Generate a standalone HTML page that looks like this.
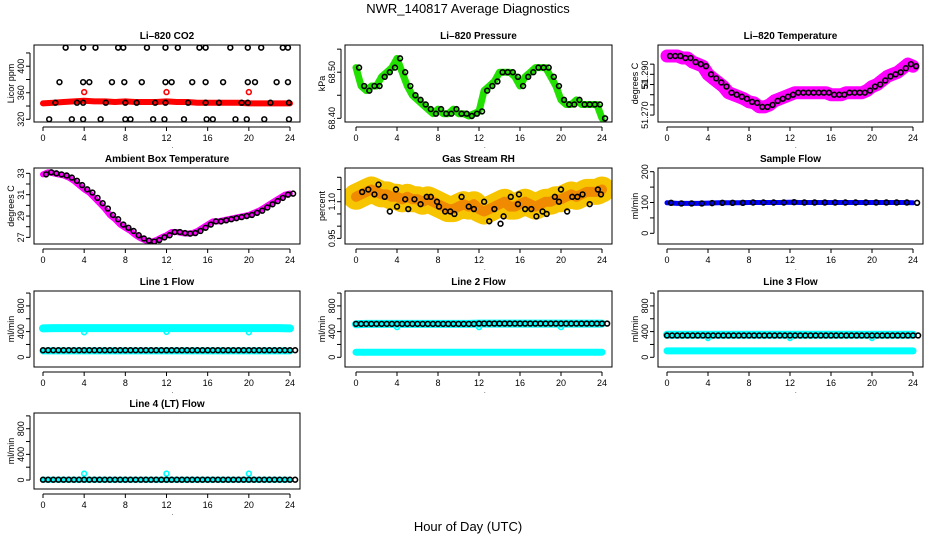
<!DOCTYPE html>
<html><head><meta charset="utf-8"><style>
html,body{margin:0;padding:0;background:#fff;}
svg{display:block;font-family:"Liberation Sans",sans-serif;}
</style></head><body>
<svg id="chart" width="936" height="540" viewBox="0 0 936 540" xmlns="http://www.w3.org/2000/svg">
<text x="468" y="13" text-anchor="middle" font-size="13">NWR_140817  Average Diagnostics</text>
<text x="468" y="531" text-anchor="middle" font-size="13">Hour of Day (UTC)</text>
</svg>
<script>
// ---- data arrays ----
const halfHours = [0,0.5,1,1.5,2,2.5,3,3.5,4,4.5,5,5.5,6,6.5,7,7.5,8,8.5,9,9.5,10,10.5,11,11.5,12,12.5,13,13.5,14,14.5,15,15.5,16,16.5,17,17.5,18,18.5,19,19.5,20,20.5,21,21.5,22,22.5,23,23.5,24];
const hours = [0,1,2,3,4,5,6,7,8,9,10,11,12,13,14,15,16,17,18,19,20,21,22,23,24];
const co2Band = [344,345,346,347,348,347,347,346,347,346,346,346,347,346,346,345,345,345,345,345,344,344,344,344,344];
const co2SpikeHours = [4,12,20];
const co2SpikeVals = [361,361,361];
const co2BlackHours = [0.6,2.8,3.9,5.6,8,8.5,10.7,11.8,13.7,15.9,16.5,18.7,19.8,21.5,23.9, 2.2,3.9,5.1,7.3,7.8,10.1,11.9,13.1,15.2,15.8,18.2,19.9,21.2,23.3,23.8, 1.6,3.9,4.5,6.7,7.9,9.6,11.9,12.5,14.5,15.8,17.5,19.9,20.6,22.7,23.8, 1.2,3.3,3.9,6.1,8,9.1,10.9,11.9,14.1,15.8,17.1,19.3,19.9,22.1,23.9];
const co2BlackVals = [320,320,320,320,320,320,320,320,320,320,320,320,320,320,320, 428,428,428,428,428,428,428,428,428,428,428,428,428,428,428, 376,376,376,376,376,376,376,376,376,376,376,376,376,376,376, 345,345,345,345,345,345,345,345,345,345,345,345,345,345,345];
const pressVals = [68.51,68.47,68.46,68.47,68.47,68.49,68.50,68.51,68.53,68.50,68.47,68.45,68.44,68.43,68.42,68.41,68.42,68.41,68.41,68.42,68.41,68.41,68.405,68.41,68.415,68.46,68.47,68.48,68.50,68.50,68.50,68.49,68.47,68.49,68.50,68.51,68.51,68.51,68.49,68.47,68.44,68.43,68.43,68.44,68.43,68.43,68.43,68.43,68.40];
const litempVals = [51.299,51.299,51.299,51.298,51.298,51.296,51.295,51.294,51.290,51.288,51.286,51.284,51.281,51.280,51.279,51.278,51.2765,51.276,51.274,51.274,51.275,51.277,51.278,51.279,51.280,51.281,51.281,51.281,51.281,51.281,51.281,51.281,51.280,51.280,51.280,51.281,51.281,51.281,51.281,51.282,51.284,51.285,51.287,51.289,51.290,51.291,51.293,51.295,51.294];
const ambientVals = [32.9,33.1,33.0,32.9,32.8,32.6,32.3,31.9,31.5,31.2,30.7,30.2,29.7,29.1,28.7,28.2,27.9,27.6,27.2,26.9,26.7,26.6,26.75,27.0,27.2,27.5,27.5,27.4,27.35,27.4,27.6,27.9,28.2,28.5,28.5,28.6,28.7,28.8,28.9,29.0,29.1,29.3,29.5,29.8,30.1,30.4,30.7,31.0,31.1];
const rhBand = [1.12,1.13,1.14,1.15,1.14,1.13,1.13,1.12,1.12,1.11,1.12,1.11,1.11,1.10,1.11,1.10,1.09,1.08,1.07,1.07,1.08,1.09,1.08,1.09,1.07,1.06,1.07,1.08,1.09,1.10,1.08,1.08,1.09,1.10,1.09,1.08,1.09,1.10,1.10,1.11,1.11,1.12,1.13,1.12,1.13,1.14,1.14,1.14,1.15];
const rhBlackHours = [0.6,1.2,1.8,2.2,2.8,3.3,3.9,4,4.8,5.1,5.7,6.3,6.9,7.3,7.9,8.1,8.7,9.2,9.6,10.3,11,11.5,12.5,13,13.5,14.1,14.4,15.1,15.8,15.9,16.5,17.1,17.6,18.2,18.6,19.4,19.8,20,20.6,21.1,21.6,22.1,22.8,23.6,23.9];
const rhBlackVals = [1.14,1.15,1.13,1.17,1.12,1.06,1.15,1.08,1.11,1.07,1.11,1.09,1.12,1.12,1.10,1.08,1.06,1.06,1.05,1.12,1.08,1.07,1.10,1.02,1.07,1.01,1.04,1.12,1.09,1.13,1.07,1.07,1.04,1.06,1.05,1.12,1.10,1.15,1.06,1.12,1.12,1.13,1.09,1.15,1.13];
const sampleVals = [99,97,97,97,98,99,99,99,100,100,100,100,101,100,100,100,100,100,100,100,100,100,100,100,99];
const line1High = [450,455,455,455,455,455,455,455,455,455,455,455,455,455,455,455,455,455,455,455,455,455,455,455,450];
const line1Low = [100,100,100,100,100,100,100,100,100,100,100,100,100,100,100,100,100,100,100,100,100,100,100,100,100];
const line1Black = [110,110,110,110,110,110,110,110,110,110,110,110,110,110,110,110,110,110,110,110,110,110,110,110,110];
const line2High = [515,520,520,520,520,520,520,520,520,520,520,520,525,525,525,525,525,525,525,525,525,525,525,525,525];
const line2Low = [80,80,80,80,80,80,80,80,80,80,80,80,80,80,80,80,80,80,80,80,80,80,80,80,80];
const line2Black = [520,520,520,520,520,520,520,520,520,520,520,520,525,525,525,525,525,525,525,525,525,525,525,525,525];
const line3High = [350,350,350,350,350,350,350,350,350,350,350,350,350,350,350,350,350,350,350,350,350,350,350,350,350];
const line3Low = [100,100,100,100,100,100,100,100,100,100,100,100,100,100,100,100,100,100,100,100,100,100,100,100,100];
const line3Black = [340,340,340,340,340,340,340,340,340,340,340,340,340,340,340,340,340,340,340,340,340,340,340,340,340];
const line4Cyan = [5,5,5,5,5,5,5,5,5,5,5,5,5,5,5,5,5,5,5,5,5,5,5,5,5];
const line4Black = [5,5,5,5,5,5,5,5,5,5,5,5,5,5,5,5,5,5,5,5,5,5,5,5,5];
const dipHours = [4,12,20];
const line1Dips = [390,395,390];
const line2Dips = [470,470,470];
const line3Dips = [300,300,300];
const line4Dips = [100,100,100];
const xTicks = [0,4,8,12,16,20,24];

// ---- layout ----
const NS = "http://www.w3.org/2000/svg";
const svg = document.getElementById('chart');
const cols = [{l:34,r:300,x0:43,x24:290},{l:345,r:612,x0:356,x24:602},{l:658,r:923,x0:667,x24:913}];
const rows = [{t:45,b:122},{t:168,b:244},{t:291,b:367},{t:413,b:489}];
function el(tag, attrs, parent){const e=document.createElementNS(NS,tag);for(const k in attrs)e.setAttribute(k,attrs[k]);(parent||svg).appendChild(e);return e;}

function makePanel(name, title, ylab, c, r, ylo, yhi, ticks, labels){
  const C=cols[c], R=rows[r];
  const g=el('g',{});
  
  
  const xs=h=>C.x0+(C.x24-C.x0)*h/24;
  const ys=v=>R.b-(v-ylo)/(yhi-ylo)*(R.b-R.t);
  const p={g,xs,ys,C,R};
  const t=el('text',{x:(C.l+C.r)/2,y:R.t-6,'text-anchor':'middle','font-size':10,'font-weight':'bold'},g);
  t.textContent=title;
  
  
  const yl=el('text',{x:0,y:0,'text-anchor':'middle','font-size':9,transform:`translate(${C.l-20},${(R.t+R.b)/2}) rotate(-90)`},g);
  yl.textContent=ylab;
  
  
  const xa=el('g',{},g);
  
  
  el('line',{x1:xs(0),x2:xs(24),y1:R.b+5,y2:R.b+5,stroke:'#000'},xa);
  xTicks.forEach(h=>{
    el('line',{x1:xs(h),x2:xs(h),y1:R.b+5,y2:R.b+9,stroke:'#000'},xa);
    const tl=el('text',{x:xs(h),y:R.b+19,'text-anchor':'middle','font-size':9},xa);
    tl.textContent=h;
  });
  el('text',{x:xs(12)+5,y:R.b+26,'font-size':6},xa).textContent='.';
  const ya=el('g',{},g);
  
  
  el('line',{x1:C.l-4,x2:C.l-4,y1:ys(ticks[0]),y2:ys(ticks[ticks.length-1]),stroke:'#000'},ya);
  ticks.forEach((v,i)=>{
    el('line',{x1:C.l-8,x2:C.l-4,y1:ys(v),y2:ys(v),stroke:'#000'},ya);
    if(labels[i]){
      const tl=el('text',{x:0,y:0,'text-anchor':'middle','font-size':9,transform:`translate(${C.l-10},${ys(v)}) rotate(-90)`},ya);
      tl.textContent=labels[i];
    }
  });
  const cp='clip'+name;
  const cl=el('clipPath',{id:cp},g); el('rect',{x:C.l,y:R.t,width:C.r-C.l,height:R.b-R.t},cl);
  p.plot=el('g',{'clip-path':`url(#${cp})`},g);
  const box=el('rect',{x:C.l,y:R.t,width:C.r-C.l,height:R.b-R.t,fill:'none',stroke:'#000'},g);
  
  
  return p;
}
function band(p, xsArr, vals, color, w, name){
  const pts=xsArr.map((h,i)=>p.xs(h).toFixed(1)+','+p.ys(vals[i]).toFixed(1)).join(' ');
  const l=el('polyline',{points:pts,fill:'none',stroke:color,'stroke-width':w,'stroke-linejoin':'round','stroke-linecap':'round'},p.plot);
  
  
  return l;
}
function circles(p, xsArr, vals, color, name, off){
  const g=el('g',{},p.plot);
  
  
  xsArr.forEach((h,i)=>{
    el('circle',{cx:p.xs(h+(off||0)),cy:p.ys(vals[i]),r:2.4,fill:'none',stroke:color,'stroke-width':1.6},g);
  });
}

// CO2
let p=makePanel('co2','Li\u2013820 CO2','Licor ppm',0,0,315.9,432,[320,340,360,380,400,420],['320','','360','','400','']);
band(p,hours,co2Band,'#ff0000',6,'co2-raw-band');
circles(p,co2SpikeHours,co2SpikeVals,'#ff0000','co2-raw-outliers');
circles(p,co2BlackHours,co2BlackVals,'#000','co2-averages');
// Pressure
p=makePanel('pressure','Li\u2013820 Pressure','kPa',1,0,68.392,68.559,[68.40,68.45,68.50,68.55],['68.40','','68.50','']);
band(p,halfHours,pressVals,'#22e000',7,'pressure-raw-band');
circles(p,halfHours,pressVals,'#000','pressure-averages',0.3);
// Li-820 temp
p=makePanel('li820-temp','Li\u2013820 Temperature','degrees C',2,0,51.2666,51.3044,[51.270,51.275,51.280,51.285,51.290,51.295],['51.270','','','51','51.290','']);
band(p,halfHours,litempVals,'#ff00ff',13,'li820-temp-raw-band');
circles(p,halfHours,litempVals,'#000','li820-temp-averages',0.3);
// Ambient
p=makePanel('ambient-temp','Ambient Box Temperature','degrees C',0,1,26.38,33.5,[27,28,29,30,31,32,33],['27','','29','','31','','33']);
band(p,halfHours,ambientVals,'#ff00ff',6,'ambient-temp-raw-band');
circles(p,halfHours,ambientVals,'#000','ambient-temp-averages',0.3);
// RH
p=makePanel('gas-rh','Gas Stream RH','percent',1,1,0.927,1.238,[0.95,1.00,1.05,1.10,1.15,1.20],['0.95','','','1.10','','']);
band(p,halfHours,rhBand,'#f7c400',26,'gas-rh-raw-band');
band(p,halfHours,rhBand,'#f08a00',10,'gas-rh-raw-core');
circles(p,rhBlackHours,rhBlackVals,'#000','gas-rh-averages');
// Sample flow
p=makePanel('sample-flow','Sample Flow','ml/min',2,1,-34.7,212,[0,50,100,150,200],['0','','100','','200']);
band(p,hours,sampleVals,'#0000ff',5,'sample-flow-raw-band');
circles(p,hours,sampleVals,'#000','sample-flow-averages',0.4);
// Line flows
const fticks=[0,200,400,600,800,1000], flabels=['0','','400','','800',''];
p=makePanel('line1-flow','Line 1 Flow','ml/min',0,2,-151,1032,fticks,flabels);
band(p,hours,line1High,'#00ffff',8,'line1-flow-high-band');
band(p,hours,line1Low,'#00ffff',7,'line1-flow-low-band');
circles(p,dipHours,line1Dips,'#00ffff','line1-flow-dips');
circles(p,hours,line1Black,'#000','line1-flow-averages',0.5);
circles(p,hours,line1Black,'#000','line1-flow-averages-b',0);
p=makePanel('line2-flow','Line 2 Flow','ml/min',1,2,-151,1032,fticks,flabels);
band(p,hours,line2High,'#00ffff',8,'line2-flow-high-band');
band(p,hours,line2Low,'#00ffff',7,'line2-flow-low-band');
circles(p,dipHours,line2Dips,'#00ffff','line2-flow-dips');
circles(p,hours,line2Black,'#000','line2-flow-averages',0.5);
circles(p,hours,line2Black,'#000','line2-flow-averages-b',0);
p=makePanel('line3-flow','Line 3 Flow','ml/min',2,2,-151,1032,fticks,flabels);
band(p,hours,line3High,'#00ffff',8,'line3-flow-high-band');
band(p,hours,line3Low,'#00ffff',7,'line3-flow-low-band');
circles(p,dipHours,line3Dips,'#00ffff','line3-flow-dips');
circles(p,hours,line3Black,'#000','line3-flow-averages',0.5);
circles(p,hours,line3Black,'#000','line3-flow-averages-b',0);
p=makePanel('line4-flow','Line 4 (LT) Flow','ml/min',0,3,-140,1045,fticks,flabels);
band(p,hours,line4Cyan,'#00ffff',6,'line4-flow-band');
circles(p,dipHours,line4Dips,'#00ffff','line4-flow-spikes');
circles(p,hours,line4Black,'#000','line4-flow-averages',0.5);
circles(p,hours,line4Black,'#000','line4-flow-averages-b',0);
</script>
</body></html>
